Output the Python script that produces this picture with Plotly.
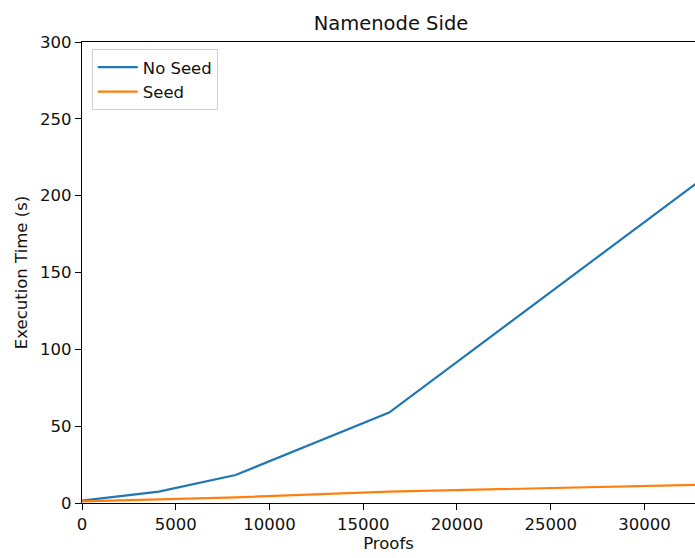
import plotly.graph_objects as go

proofs = [0, 4096, 8192, 16384, 32768]
no_seed = [1.5, 7.4, 18.2, 58.8, 208.0]
seed = [1.0, 2.4, 3.7, 7.4, 11.8]
x_ticks = [0, 5000, 10000, 15000, 20000, 25000, 30000]
y_ticks = [0, 50, 100, 150, 200, 250, 300]

font = "DejaVu Sans"
fs = 16.5
fig = go.Figure()
fig.add_trace(go.Scatter(x=proofs, y=no_seed, mode="lines", name="No Seed",
                         line=dict(color="#1f77b4", width=2.2)))
fig.add_trace(go.Scatter(x=proofs, y=seed, mode="lines", name="Seed",
                         line=dict(color="#ff7f0e", width=2.2)))

fig.update_layout(
    width=695, height=558,
    margin=dict(l=82, r=0, t=42, b=55),
    paper_bgcolor="white", plot_bgcolor="white",
    font=dict(family=font, size=fs, color="#111"),
    title=dict(text="Namenode Side", x=391/695, xref="container", xanchor="center",
               y=1 - 23/558, yref="container", yanchor="middle",
               font=dict(family=font, size=19.5, color="#111")),
    showlegend=True,
    legend=dict(x=0.016, y=0.985, xanchor="left", yanchor="top",
                bgcolor="rgba(255,255,255,0.8)", bordercolor="#d0d0d0", borderwidth=1,
                font=dict(family=font, size=fs, color="#111"),
                itemwidth=40, tracegroupgap=0),
)
fig.update_xaxes(range=[0, 32700], tickvals=x_ticks, ticktext=[str(v) for v in x_ticks],
                 showgrid=False, zeroline=False,
                 showline=True, linecolor="black", linewidth=1.3, mirror=True,
                 ticks="outside", ticklen=6, tickcolor="black", tickwidth=1.3,
                 tickfont=dict(family=font, size=fs, color="#111"),
                 title=dict(text="Proofs", standoff=4, font=dict(family=font, size=fs, color="#111")))
fig.update_yaxes(range=[0, 300], tickvals=y_ticks, ticktext=[str(v) for v in y_ticks],
                 showgrid=False, zeroline=False,
                 showline=True, linecolor="black", linewidth=1.3, mirror=False,
                 ticks="outside", ticklen=6, tickcolor="black", tickwidth=1.3,
                 tickfont=dict(family=font, size=fs, color="#111"),
                 title=dict(text="Execution Time (s)", standoff=8, font=dict(family=font, size=fs, color="#111")))

fig.write_html("out.html")
